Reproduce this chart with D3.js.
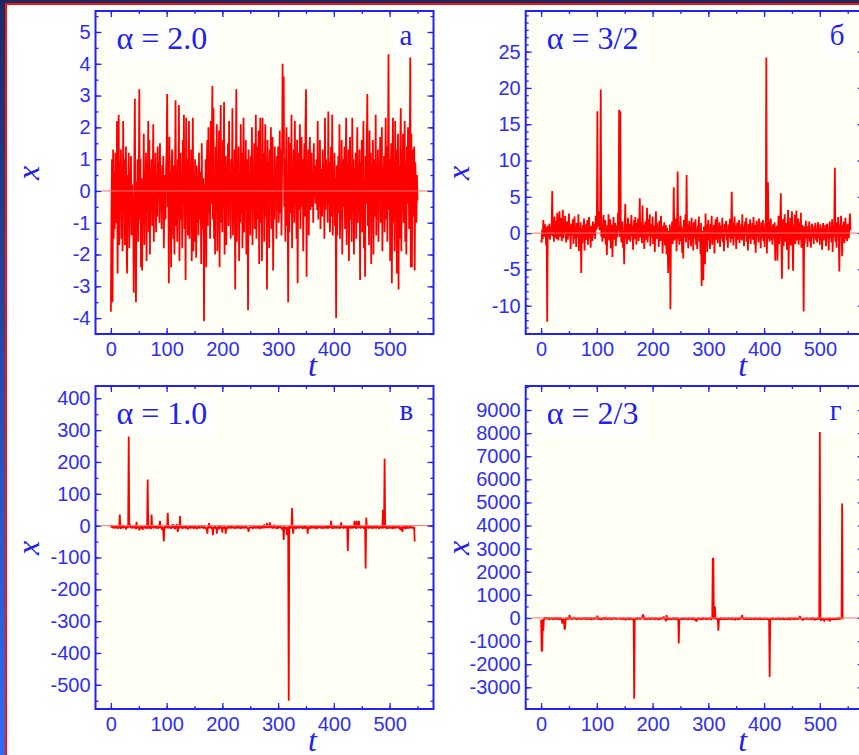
<!DOCTYPE html>
<html><head><meta charset="utf-8">
<script src="https://cdn.jsdelivr.net/npm/d3@7"></script>
<style>body{margin:0;background:#fff;overflow:hidden}svg{display:block}</style>
</head><body><svg id="c" width="859" height="755"></svg>
<script>
// ---- data (x values at t = 0,1,2,...) ----
const seriesA=[
-3.8,-0.7,1.0,-3.5,1.3,-1.5,0.6,-1.2,1.2,-0.4,-1.0,2.2,-2.6,0.4,2.4,-1.7,0.9,-0.5,1.3,-1.5,
0.8,-1.9,2.2,-0.6,1.0,-1.7,0.3,1.4,-1.3,-2.6,0.5,-0.9,1.2,-1.8,0.6,-0.4,1.1,-1.4,0.2,-0.8,
-0.5,-3.2,0.9,2.9,-1.0,-3.5,0.3,-0.6,1.0,-1.6,0.4,3.2,-0.9,1.0,-2.4,0.4,-2.5,0.3,-0.8,1.8,
-1.7,0.6,-0.3,1.2,-2.2,0.9,-0.4,2.2,-1.3,1.6,-2.0,0.7,-0.5,1.0,-1.1,0.2,2.1,-1.6,0.8,-0.3,
1.2,-1.3,0.4,-0.8,1.4,-0.2,0.9,-1.0,1.5,-0.6,0.3,-1.2,0.8,-0.4,1.1,-1.8,0.5,0.0,-0.9,0.7,
1.3,3.05,-0.5,0.4,-2.9,1.7,-1.0,0.6,-2.4,0.9,1.3,-0.3,-1.5,0.8,-2.0,0.5,2.85,-1.1,0.6,-1.6,
1.0,-0.8,2.7,-2.2,0.3,1.2,-0.9,0.5,-1.8,1.6,-0.4,2.4,-1.2,0.7,-2.8,2.3,-0.6,1.0,-1.4,0.2,
2.2,-1.5,0.6,-0.2,1.3,-2.2,-0.5,2.3,-1.9,0.4,-1.6,1.0,-0.3,-2.1,0.8,-1.0,0.5,-1.4,1.2,-0.9,
-0.3,0.6,-2.3,1.5,-0.8,-1.2,0.4,-4.1,0.2,-1.8,1.0,-2.4,0.9,1.6,-1.1,2.0,-0.7,1.2,-1.5,2.2,
-0.4,1.3,3.3,-0.9,2.6,-1.5,0.3,-2.0,1.4,-0.6,2.1,-1.9,0.7,-0.2,1.9,-2.4,0.5,2.7,-1.0,0.9,
-1.3,1.6,-0.5,2.8,-2.0,0.4,1.1,-1.7,0.8,-0.4,1.5,-1.1,2.2,-0.6,0.3,-1.5,1.0,-0.2,2.6,-1.4,
0.7,-0.9,1.3,-3.1,0.5,3.2,-1.6,0.9,-0.3,1.4,-2.2,0.6,-1.0,2.1,-0.7,1.2,-1.8,0.4,2.3,-1.3,
0.9,-0.5,1.6,-2.0,0.3,1.0,-3.75,1.3,-0.8,0.6,-1.4,1.1,-0.2,2.0,-1.7,0.8,-0.6,1.5,-1.2,0.4,
2.4,-1.5,0.2,1.4,-0.9,1.9,-2.3,0.7,2.3,-1.0,0.5,-2.2,2.3,-0.4,1.2,-1.6,0.6,2.1,-0.8,1.0,
-3.1,1.6,-0.5,0.9,-1.8,1.3,-0.3,2.0,-1.2,0.6,1.7,-2.5,0.4,-0.9,1.4,-0.2,0.8,-1.5,1.1,-0.6,
1.4,-1.0,0.5,1.9,-0.7,1.3,-1.4,0.6,4.0,1.2,3.6,-0.5,1.0,-1.6,0.8,2.0,-1.1,0.3,-3.5,1.7,
-1.3,0.6,1.5,-0.7,2.4,-1.8,0.9,-0.3,1.3,-1.0,2.2,-0.4,0.7,-1.5,1.6,-2.9,0.5,1.2,-0.6,2.1,
-1.2,0.8,1.7,-0.5,1.0,-1.9,0.4,1.5,-0.8,2.0,3.2,-2.7,0.6,-0.3,1.3,-1.4,0.9,1.7,-0.6,0.2,
1.2,-0.5,0.6,-1.0,1.5,-0.2,0.8,-0.4,0.3,1.0,-0.6,2.2,-0.9,0.5,-0.2,1.6,-1.2,0.7,0.2,-0.8,
1.3,-0.3,0.8,-1.5,2.3,-0.6,1.0,-0.2,0.6,-1.0,2.5,-0.4,0.9,-1.3,0.3,1.4,-0.8,2.4,-1.4,0.6,
-0.5,1.2,-1.1,0.4,-4.0,0.8,-1.4,0.3,1.1,-0.7,2.1,-1.5,0.6,-0.9,1.6,-2.0,0.2,1.0,-0.5,1.4,
-1.2,0.5,2.3,-1.7,0.8,-0.4,1.3,-2.2,0.6,1.7,-0.9,0.3,-1.6,2.3,-0.5,1.0,-2.0,0.7,-0.3,1.2,
-1.5,0.4,2.0,-1.0,0.6,-0.2,1.3,-2.8,0.9,-0.6,1.6,-1.3,0.5,2.2,-1.8,0.3,-2.7,1.1,-0.4,1.5,
3.05,-1.1,0.6,-1.7,1.9,-0.5,1.2,-2.3,0.8,-0.3,1.6,-2.0,0.4,1.0,-0.8,2.4,-1.4,0.6,-0.2,1.3,
-1.6,0.9,-0.4,1.7,-1.0,0.3,2.0,-1.9,0.7,-0.5,1.1,-1.3,0.5,2.3,-0.9,1.4,-1.6,0.8,4.3,-0.6,
1.0,-2.2,0.5,1.5,-2.9,0.9,2.3,-1.0,0.4,-1.9,2.2,-0.7,1.3,-2.6,0.3,1.8,-3.1,0.8,-1.5,1.2,
2.6,-1.9,1.3,-0.6,1.8,-1.0,0.5,2.2,-1.6,0.9,-2.0,1.4,-0.4,2.0,1.1,-1.2,0.7,4.2,-2.4,1.8,
-2.4,1.3,-0.8,0.6,1.4,-2.5,0.9,0.2,-1.0,0.5,-0.3];

const seriesB=[
-1.0,-1.3,0.5,-0.8,1.8,0.6,-0.5,1.2,0.3,-1.7,0.8,-12.2,1.0,-0.6,0.4,1.3,-0.9,0.7,-0.3,1.1,
5.8,-0.4,1.0,-1.2,2.3,-0.6,0.9,1.7,-0.8,2.8,0.2,-1.0,1.5,3.0,-0.5,0.7,2.1,-1.1,0.4,3.2,
-0.7,1.2,-0.2,2.4,0.5,-1.3,1.6,0.1,-0.9,1.0,2.7,-0.4,0.6,-2.2,1.3,-0.3,0.8,1.9,-1.5,0.4,
2.3,-0.8,0.9,-1.9,1.4,0.2,-0.6,2.6,-2.5,0.7,-0.2,1.5,-5.5,0.6,-1.4,1.1,-0.5,2.0,-2.4,0.3,
1.2,-0.9,0.5,1.8,-1.6,0.4,2.2,-0.7,0.8,-2.0,1.0,0.2,-1.1,1.6,-0.3,0.9,1.3,-0.8,2.4,0.5,
0.8,16.8,0.9,1.5,3.0,0.4,2.0,19.8,-0.5,1.3,-1.2,0.6,2.5,-0.7,0.2,1.8,-1.6,0.9,-3.0,1.1,
-0.4,2.6,-1.0,0.5,1.9,-2.1,0.7,1.2,-3.3,0.3,2.2,-0.9,0.6,1.4,-1.8,0.2,1.0,-0.6,2.8,0.4,
17.0,-0.5,16.8,0.9,-1.3,0.6,1.6,-2.0,0.3,-4.3,0.8,4.0,-0.7,1.2,-1.5,0.5,2.1,-0.9,0.4,1.3,
-1.2,0.7,2.5,-0.4,1.0,-2.3,0.6,1.8,-0.8,2.2,0.3,-1.6,1.4,-0.2,2.0,-1.1,0.9,4.8,-0.6,1.5,
0.2,-1.4,3.8,-0.5,1.1,-2.2,0.8,1.6,-0.9,0.4,3.5,-1.3,0.6,1.9,-0.4,2.6,-1.8,0.7,1.2,-0.6,
2.3,-1.5,0.5,1.0,-2.6,0.9,3.0,-0.8,1.4,-0.3,0.6,-1.9,1.7,0.2,-1.1,2.4,-0.5,0.8,-2.8,1.0,
-0.6,1.5,-1.7,0.4,1.1,-2.9,0.7,-1.2,-5.5,0.3,-2.0,1.2,-10.5,0.5,-0.9,1.6,-1.5,0.4,6.3,-1.0,
1.3,-0.4,2.0,-2.5,0.6,8.5,-0.8,1.1,-1.6,0.3,2.4,-1.1,0.9,-2.7,0.5,-3.5,1.8,-0.6,0.7,2.6,
-1.3,8.0,-0.5,1.2,-2.1,0.4,1.7,-0.9,0.6,-1.8,2.1,-0.3,0.8,-2.4,1.5,-0.7,0.3,1.9,-1.6,0.5,
-2.2,1.0,-0.4,2.3,-1.2,0.6,-2.9,1.4,-7.3,0.3,-3.5,-6.5,0.9,-1.4,-4.3,2.7,-0.8,1.2,-2.6,0.5,
1.8,-1.0,0.4,-2.2,1.3,-0.5,2.4,-1.6,0.7,-0.3,1.1,-2.8,0.6,1.9,-0.9,0.3,2.2,-1.4,0.8,-0.5,
1.5,-1.9,0.4,1.0,-0.7,2.1,-1.2,0.5,-2.5,1.3,-0.4,0.9,1.7,-1.0,0.3,-2.0,1.2,-0.6,0.8,2.0,
-1.3,0.6,5.7,-0.8,1.4,-1.7,0.4,2.3,-0.5,1.0,-2.2,0.7,1.5,-0.9,0.2,1.8,-1.4,0.6,-0.3,1.2,
-1.0,2.6,-0.6,0.9,-1.8,0.3,1.6,-0.4,2.1,-1.2,0.5,-2.4,1.3,0.1,-0.8,1.9,-1.5,0.7,-0.2,1.4,
-0.9,2.2,0.4,-1.6,1.1,-2.7,0.6,1.7,-0.5,0.9,-1.3,2.0,-0.4,0.8,-2.1,1.5,-0.7,0.3,1.8,-1.1,
0.6,-1.9,1.4,-0.5,24.2,-2.8,1.3,7.0,-0.8,1.7,-1.2,0.4,2.0,-0.9,0.5,-1.6,1.2,0.3,-0.7,1.5,
-3.8,0.8,-1.4,1.0,-3.8,0.6,2.4,-1.5,0.2,1.3,5.5,-0.9,-6.3,0.7,1.9,-1.8,0.4,2.6,-1.2,0.8,
1.4,-2.3,0.5,3.2,-5.0,1.0,-0.6,2.1,-1.7,0.9,3.0,-0.8,-5.2,1.2,-0.4,2.5,-1.5,0.6,3.1,-1.0,
0.7,2.0,-1.6,0.4,1.5,-0.9,2.8,-2.0,0.6,1.1,-0.3,-10.8,0.9,-1.4,0.3,1.7,-0.7,0.5,-1.9,1.0,
-0.5,1.6,-1.2,0.4,-2.0,0.8,1.3,-0.6,0.2,-1.5,1.0,-0.4,1.4,-0.9,0.5,-1.3,0.9,1.5,-0.7,0.3,
-1.6,1.2,-0.5,0.7,-2.3,0.4,1.4,-1.0,0.6,-0.3,1.1,-1.8,0.5,1.3,-0.8,0.2,-2.4,0.9,1.6,-0.6,
0.4,-1.3,1.9,-2.6,1.0,-0.5,2.1,9.0,-1.2,0.7,-2.0,1.5,0.3,2.2,-0.9,-5.3,1.2,-0.4,2.4,0.6,
-3.2,1.1,-0.6,1.6,-1.4,0.5,2.1,-0.8,0.9,-1.1,1.3,0.2,-0.7,1.0,2.7,0.4];

const seriesC=[
-2,-5,1,-4,-8,-3,-6,-2,-9,-4,-1,-7,-3,-10,-5,-2,35,-6,-10,-3,
-5,2,-8,-4,-1,-6,-3,-12,-5,-2,-7,-4,280,-3,5,-8,-2,-6,-4,-9,
-3,-1,-7,-5,-2,-11,12,-4,-8,-3,-6,-15,-2,-9,-4,-1,-7,-13,-3,-5,
-8,-2,-6,-4,-10,-3,145,-5,-9,-2,-7,-4,-11,35,-6,-3,-8,-5,-1,-7,
-4,-9,-2,-6,-3,-10,-5,-1,15,-7,-4,-12,-3,-6,-20,-50,-5,-2,-8,-4,
-6,-3,40,-9,-5,-2,-7,-4,-10,-3,-6,5,-8,-2,-5,-11,-4,-1,5,-7,
-20,-5,-3,-9,30,-6,-2,-8,-4,-10,-3,-7,-1,-5,-9,-2,-6,-4,-12,-3,
-7,-5,-2,-9,-4,-6,-1,-8,-3,-10,-5,-2,-7,-4,-11,-6,-3,-8,-2,-5,
-9,-4,-6,-1,-7,-3,-10,-5,-2,-8,-4,-12,-6,-25,-3,-9,8,-5,-7,-2,
-4,-10,-6,-30,-3,-8,-5,-2,-9,-4,-25,-7,-3,-6,-11,-5,-2,-8,-4,-6,
-22,-3,-9,-5,-2,-7,-25,-4,-10,-6,-3,-8,-5,-1,-7,-4,-9,-2,-6,-3,
-8,-5,-10,-3,-6,-2,-9,-4,-7,-1,-5,-8,-3,-10,-6,-2,-7,-4,-9,-5,
-3,-8,-2,-6,-4,-11,-7,-20,-5,-9,-3,-6,-1,-8,-4,-10,-5,-2,-7,-3,
-9,-4,-6,-2,-8,-5,-3,-10,-6,-1,-7,-4,-9,-2,-5,4,-8,-3,-6,-4,
8,-2,-7,-5,-3,10,-6,-1,-8,-4,-2,-9,-5,3,-7,-3,-6,-10,-4,-2,
-8,-5,-3,-7,-1,-6,-9,-4,-15,-2,-45,-7,-5,-3,-10,-6,-30,-4,-8,-550,
-5,-2,-9,-3,-6,55,-8,-25,-4,-7,-2,-5,-10,-3,-6,-1,-8,-4,-9,-5,
-2,-7,-3,-6,-10,-4,-1,-8,-5,-3,-9,-2,-6,-25,-4,-7,-3,-10,-5,-2,
-8,-4,-6,-1,-9,-3,-7,-5,-2,-10,-6,-3,-8,-4,-1,-7,-5,-9,-2,-6,
-4,-10,-3,-7,-5,-2,-8,-6,-1,-9,-4,-3,-7,-5,-2,15,-6,-8,-3,-10,
-5,-2,-7,-4,-9,-1,-6,-3,-8,-5,-10,-2,-7,10,-4,-6,-3,-9,-5,-1,
-8,-4,-6,-2,-10,-80,-5,-3,-7,-1,-9,-4,-6,-2,-8,-5,-3,15,-7,-4,
-10,15,-6,-3,-8,15,-5,-2,-9,-4,-7,-1,-6,-3,-10,-5,-2,-135,25,-4,
-7,-3,-9,-5,-1,-8,-4,-6,-2,-10,-3,-7,-5,-1,-8,-4,-9,-2,-6,-3,
-5,-10,-4,-7,-2,-8,-6,-3,50,-9,-5,210,-4,-7,-2,-10,-6,-3,-8,-5,
-1,-9,-4,-7,-3,-10,-6,-2,-8,-5,-3,-9,-4,-6,-1,-7,-5,-10,-3,-8,
-15,-4,-6,-20,-2,-9,-5,-3,-7,-10,-4,-1,-8,-6,-3,-9,-5,-2,-7,-4,
-8,-3,-6,-10,-4,-50];

const seriesD=[
-80,-1450,-1400,-60,-550,-40,-20,30,-50,-10,-30,20,-60,-20,10,-40,-70,-10,-30,20,
-50,-20,-80,10,-40,-30,-10,-60,30,-20,-50,-10,-70,-30,20,-40,-60,-20,-250,-30,
-60,-80,-500,-450,-40,-20,10,-50,-30,-10,-60,130,-20,-40,20,-70,-30,-10,-50,30,
-40,-20,-60,10,-30,-80,-10,-50,20,-40,-20,-70,-30,10,-60,-20,-40,30,-50,-10,
-30,-70,-20,20,-50,-40,-10,-60,30,-20,-80,-30,10,-50,-20,-40,-60,20,-30,-10,
-50,100,-30,-70,-20,10,-60,-40,-20,-90,-10,-50,30,-30,-60,-20,40,-40,-10,-70,
-30,20,-50,-20,-60,10,-40,-80,-10,-30,20,-60,-20,-40,10,-70,-30,-50,-10,-40,
-20,-60,10,-30,-50,-10,-80,-40,20,-20,-60,-30,-100,-10,-50,20,-40,-70,-20,-30,
-60,10,-40,-20,-80,-30,-50,-3500,-60,-20,-40,10,-70,-30,-10,-50,20,-40,-60,-20,
-30,-10,80,150,60,-40,-70,-20,10,-50,-30,-60,-10,-40,20,-80,-30,-50,-10,-20,
-60,10,-40,-20,-70,-30,20,-50,-10,-60,-40,-20,-80,10,-30,-50,-20,-60,30,-40,
60,-20,-50,-10,-150,120,-40,-70,-20,10,-60,-30,-50,-10,-80,-20,-40,20,-60,-30,
-10,-50,-70,-20,10,-40,-60,-1100,-30,-80,-20,-50,10,-40,-60,-10,-30,-70,20,-50,
-20,-40,-60,-10,-80,-30,10,-50,-20,-60,-40,-10,-70,20,-30,-50,-100,-20,-60,-150,
-40,-70,-20,10,-50,-30,-60,-10,-40,-80,20,-30,-50,-20,-60,10,-40,-70,-20,-30,
-60,-10,-50,20,-40,-80,-30,-20,2600,2550,-60,500,450,-40,-20,-70,-30,-60,-550,-50,
-20,-80,-40,10,-60,-30,-50,-20,-70,10,-40,-60,-10,-50,-30,-80,20,-40,-20,-60,
-30,-10,-70,-40,20,-50,-20,-60,-90,-30,10,-50,-40,-70,-20,-10,-60,-30,30,-40,
60,120,-50,-20,-70,-30,-10,-60,-40,20,-80,-20,-50,-30,-60,10,-40,-70,-20,-50,
-10,-60,-30,-80,20,-40,-20,-50,-70,-10,-60,-30,-40,10,-80,-20,-50,-30,-60,-40,
-20,-70,10,-50,-30,-60,-10,-40,-80,-20,-2550,-40,-60,-10,-30,-70,20,-50,-20,-60,
-40,-10,-80,-30,-50,20,-60,-20,-40,-70,-10,-50,-30,-60,10,-40,-80,-20,-50,-30,
-60,-10,-40,-70,20,-30,-50,-80,-20,-60,10,-40,-30,-70,-10,-50,-60,20,-40,-20,
-70,-30,-50,10,80,40,-60,-20,-40,-100,-80,-30,-50,-10,-60,-20,-40,10,-70,-30,
-50,-20,-60,-10,-40,-80,-30,20,-50,-20,-60,-100,-40,-10,-70,-30,-50,20,-60,-40,
8050,-20,-120,-60,-30,-80,-10,-50,-150,-40,-70,-20,-60,-30,-100,-40,-10,-60,-150,-30,
-50,-20,-70,-40,-10,-60,-30,-80,-20,-50,-40,-10,-70,-30,20,-60,-40,-20,-50,40,
4950,-30,-10];

// ---- tick labels ----
const xTicks=[0,100,200,300,400,500];
const yTicksA=[-4,-3,-2,-1,0,1,2,3,4,5];
const yTicksB=[-10,-5,0,5,10,15,20,25];
const yTicksC=[-500,-400,-300,-200,-100,0,100,200,300,400];
const yTicksD=[-3000,-2000,-1000,0,1000,2000,3000,4000,5000,6000,7000,8000,9000];
const titles=["α = 2.0","α = 3/2","α = 1.0","α = 2/3"];
const letters=["а","б","в","г"];

// ---- layout / styling ----
const svg=d3.select("#c");
const BLUE="#2222f2", TXT="#2e2ef5";
const defs=svg.append("defs");
const lg=defs.append("linearGradient").attr("id","lg").attr("x1",0).attr("y1",0).attr("x2",0).attr("y2",1);
lg.append("stop").attr("offset","0%").attr("stop-color","#1a2a66");
lg.append("stop").attr("offset","100%").attr("stop-color","#2f6cf6");
svg.append("rect").attr("x",0).attr("y",0).attr("width",859).attr("height",755).attr("fill","#ffffff");
svg.append("rect").attr("x",0).attr("y",0).attr("width",859).attr("height",3).attr("fill","#1a2a60");
svg.append("rect").attr("x",0).attr("y",0).attr("width",5).attr("height",755).attr("fill","url(#lg)");
svg.append("rect").attr("x",5).attr("y",3).attr("width",854).attr("height",2).attr("fill","#ff1010");
svg.append("rect").attr("x",5).attr("y",3).attr("width",2).attr("height",752).attr("fill","#ff1010");

const PW=338, PH=323;
const panels=[
 {L:95.5, T:11, ydom:[-4.5,5.66], yt:yTicksA, ymin:0.5, data:seriesA},
 {L:525.7,T:11, ydom:[-13.9,30.6], yt:yTicksB, ymin:1, data:seriesB},
 {L:95.5, T:386,ydom:[-576,438.6], yt:yTicksC, ymin:50, data:seriesC},
 {L:525.7,T:386,ydom:[-3940,10040], yt:yTicksD, ymin:500, data:seriesD}
];

panels.forEach((p,k)=>{
  const g=svg.append("g");
  const x=d3.scaleLinear().domain([-27.6,578.7]).range([p.L,p.L+PW]);
  const y=d3.scaleLinear().domain(p.ydom).range([p.T+PH,p.T]);
  g.append("rect").attr("x",p.L).attr("y",p.T).attr("width",PW).attr("height",PH).attr("fill","#fffff6");
  defs.append("clipPath").attr("id","cp"+k).append("rect").attr("x",p.L).attr("y",p.T).attr("width",PW).attr("height",PH);
  // title boxes
  g.append("rect").attr("x",p.L+17).attr("y",p.T+10).attr("width",102).attr("height",40).attr("fill","#ffffff");
  g.append("rect").attr("x",p.L+298).attr("y",p.T+10).attr("width",26).attr("height",38).attr("fill","#ffffff");
  // data
  const line=d3.line().x((d,i)=>x(i)).y(d=>y(d));
  g.append("path").datum(p.data).attr("d",line).attr("fill","none").attr("stroke","#ff0000")
    .attr("stroke-width",1.8).attr("stroke-linejoin","bevel").attr("clip-path","url(#cp"+k+")");
  g.append("line").attr("x1",x(-16.5)).attr("x2",p.L+PW).attr("y1",y(0)).attr("y2",y(0))
    .attr("stroke","#ff7070").attr("stroke-width",1);
  // titles
  g.append("text").attr("x",p.L+21).attr("y",p.T+38).text(titles[k])
    .attr("font-family","'Liberation Serif','Times New Roman',serif").attr("font-size",32).attr("fill","#2020f0");
  g.append("text").attr("x",p.L+304).attr("y",p.T+34).text(letters[k])
    .attr("font-family","'Liberation Serif','Times New Roman',serif").attr("font-size",29).attr("fill","#2020f0");
  // axes
  const xMinor=d3.range(0,551,50), yMinor=d3.range(Math.ceil(p.ydom[0]/p.ymin)*p.ymin,p.ydom[1],p.ymin);
  const style=a=>{a.select(".domain").remove();a.selectAll("line").attr("stroke",BLUE).attr("stroke-width",1.3);
    a.selectAll("text").attr("fill",TXT).attr("font-size",20).attr("font-family","'Liberation Sans',Arial,sans-serif");};
  const B=p.T+PH, R=p.L+PW;
  g.append("g").attr("transform",`translate(0,${B})`).call(d3.axisBottom(x).tickValues(xMinor).tickSize(-3).tickFormat("")).call(style);
  g.append("g").attr("transform",`translate(0,${B})`).call(d3.axisBottom(x).tickValues(xTicks).tickSizeInner(-6).tickSizeOuter(0).tickPadding(8)).call(style);
  g.append("g").attr("transform",`translate(0,${p.T})`).call(d3.axisTop(x).tickValues(xMinor).tickSize(-3).tickFormat("")).call(style);
  g.append("g").attr("transform",`translate(0,${p.T})`).call(d3.axisTop(x).tickValues(xTicks).tickSize(-6).tickFormat("")).call(style);
  g.append("g").attr("transform",`translate(${p.L},0)`).call(d3.axisLeft(y).tickValues(yMinor).tickSize(-3).tickFormat("")).call(style);
  g.append("g").attr("transform",`translate(${p.L},0)`).call(d3.axisLeft(y).tickValues(p.yt).tickSizeInner(-6).tickSizeOuter(0).tickPadding(5).tickFormat(d3.format("d"))).call(style);
  g.append("g").attr("transform",`translate(${R},0)`).call(d3.axisRight(y).tickValues(yMinor).tickSize(-3).tickFormat("")).call(style);
  g.append("g").attr("transform",`translate(${R},0)`).call(d3.axisRight(y).tickValues(p.yt).tickSize(-6).tickFormat("")).call(style);
  g.selectAll("text").filter(function(){return this.textContent.startsWith("−");}).text(function(){return "-"+this.textContent.slice(1);});
  // frame
  g.append("rect").attr("x",p.L).attr("y",p.T).attr("width",PW).attr("height",PH).attr("fill","none").attr("stroke",BLUE).attr("stroke-width",2);
  // axis titles
  g.append("text").attr("x",p.L+217).attr("y",B+42).attr("text-anchor","middle").text("t")
    .attr("font-family","'Liberation Serif','Times New Roman',serif").attr("font-style","italic").attr("font-size",32).attr("fill","#2020f0");
  g.append("text").attr("transform",`translate(${p.L-57},${p.T+162}) rotate(-90)`).attr("text-anchor","middle").text("x")
    .attr("font-family","'Liberation Serif','Times New Roman',serif").attr("font-style","italic").attr("font-size",32).attr("fill","#2020f0");
});
</script></body></html>
